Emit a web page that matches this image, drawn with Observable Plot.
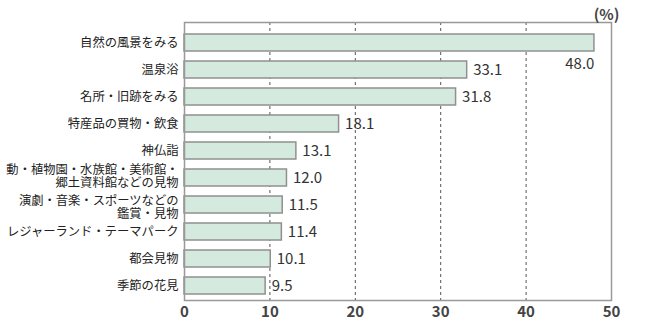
<!DOCTYPE html>
<html><head><meta charset="utf-8">
<script src="https://cdn.jsdelivr.net/npm/d3@7"></script>
<script src="https://cdn.jsdelivr.net/npm/@observablehq/plot@0.6"></script>
<style>body{margin:0;background:#fff;} #c{width:646px;height:324px;}</style>
</head><body><div id="c"></div>
<script>
const categories = ["自然の風景をみる","温泉浴","名所・旧跡をみる","特産品の買物・飲食","神仏詣","動・植物園・水族館・美術館・\n郷土資料館などの見物","演劇・音楽・スポーツなどの\n鑑賞・見物","レジャーランド・テーマパーク","都会見物","季節の花見"];
const values = [48.0,33.1,31.8,18.1,13.1,12.0,11.5,11.4,10.1,9.5];
const xTicks = [0,10,20,30,40,50];
const unitLabel = "(%)";

const data = categories.map((c,i)=>({c, v: values[i]}));
const maxV = d3.max(values);
const multi = data.filter(d => d.c.includes("\n"));
const single = data.filter(d => !d.c.includes("\n"));
const font = "'Noto Sans CJK JP', sans-serif";
const labelStyle = {y: "c", frameAnchor: "left", text: "c", dx: -6, textAnchor: "end", fontSize: 12.3, fill: "#222", lineHeight: 1.12};

const chart = Plot.plot({
  width: 646, height: 324,
  marginLeft: 184, marginRight: 35, marginTop: 22, marginBottom: 24,
  style: {fontFamily: font, background: "#fff"},
  x: {domain: [0,50], ticks: xTicks},
  y: {domain: categories, paddingInner: 0.36, paddingOuter: 0, insetTop: 8.85, insetBottom: 2.5, axis: null},
  marks: [
    Plot.ruleX(xTicks.slice(1,-1), {stroke: "#555", strokeDasharray: "3,3", strokeWidth: 1}),
    Plot.barX(data, {y: "c", x: "v", fill: "#d4eadf", stroke: "#909090", strokeWidth: 1.5}),
    Plot.text(data.filter(d=>d.v!==maxV), {y: "c", x: "v", text: d=>d.v.toFixed(1), dx: 6, textAnchor: "start", fontSize: 15, fill: "#333"}),
    Plot.text(data.filter(d=>d.v===maxV), {y: "c", x: "v", text: d=>d.v.toFixed(1), dy: 21, textAnchor: "end", fontSize: 15, fill: "#333"}),
    Plot.frame({stroke: "#999", strokeWidth: 1.5}),
    Plot.axisX({ticks: xTicks, tickSize: 0, tickPadding: 6, fontSize: 15, fontWeight: "bold", fill: "#444", label: null}),
    Plot.text(single, labelStyle),
    Plot.text(multi.slice(0,1), {...labelStyle, dy: -2}),
    Plot.text(multi.slice(1), {...labelStyle, dy: 2}),
    Plot.text([unitLabel], {frameAnchor: "top-right", dy: -13, dx: 8, fontSize: 15, fill: "#444", fontWeight: "bold"})
  ]
});
document.getElementById("c").appendChild(chart);
</script></body></html>
